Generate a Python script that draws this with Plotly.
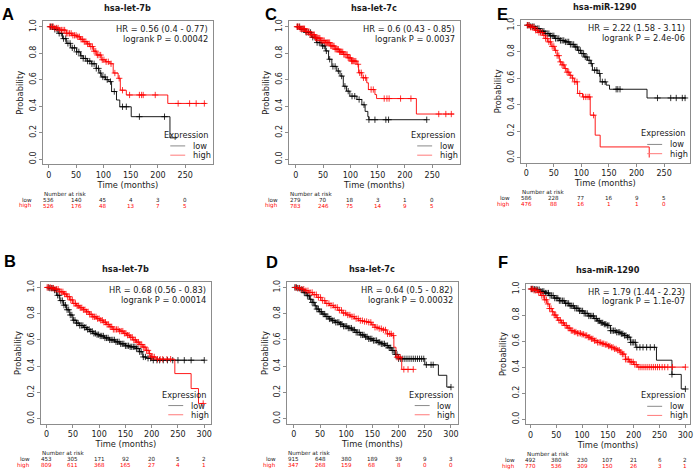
import numpy as np
import plotly.graph_objects as go

# ─────────────────────────────────────────
# DATA
# ─────────────────────────────────────────
titles = ["hsa-let-7b", "hsa-let-7c", "hsa-miR-1290",
          "hsa-let-7b", "hsa-let-7c", "hsa-miR-1290"]
letters = ["A", "C", "E", "B", "D", "F"]
hr_lines = ["HR = 0.56 (0.4 - 0.77)", "HR = 0.6 (0.43 - 0.85)", "HR = 2.22 (1.58 - 3.11)",
            "HR = 0.68 (0.56 - 0.83)", "HR = 0.64 (0.5 - 0.82)", "HR = 1.79 (1.44 - 2.23)"]
p_lines = ["logrank P = 0.00042", "logrank P = 0.0037", "logrank P = 2.4e-06",
           "logrank P = 0.00014", "logrank P = 0.00032", "logrank P = 1.1e-07"]

x_ticks_top = [0, 50, 100, 150, 200, 250]
x_ticks_bottom = [0, 50, 100, 150, 200, 250, 300]
y_ticks = [0, 0.2, 0.4, 0.6, 0.8, 1.0]
y_tick_labels = ["0.0", "0.2", "0.4", "0.6", "0.8", "1.0"]

# number at risk
a_risk_low = [536, 140, 45, 4, 3, 0]
a_risk_high = [526, 176, 48, 13, 7, 5]
c_risk_low = [279, 70, 18, 3, 1, 0]
c_risk_high = [783, 246, 75, 14, 9, 5]
e_risk_low = [586, 228, 77, 16, 9, 5]
e_risk_high = [476, 88, 16, 1, 1, 0]
b_risk_low = [453, 305, 171, 92, 20, 5, 2]
b_risk_high = [809, 611, 368, 165, 27, 4, 1]
d_risk_low = [915, 648, 380, 189, 39, 9, 3]
d_risk_high = [347, 268, 159, 68, 8, 0, 0]
f_risk_low = [492, 380, 230, 107, 21, 6, 2]
f_risk_high = [770, 536, 309, 150, 26, 3, 1]

# Kaplan-Meier steps (time in months, survival)
a_low_t = [0, 10, 17, 25, 32, 40, 51, 58, 63, 70, 78, 87, 92, 96, 104, 110, 115, 124, 130, 151, 222, 235]
a_low_s = [1, 0.98, 0.95, 0.91, 0.874, 0.84, 0.81, 0.78, 0.76, 0.74, 0.72, 0.685, 0.65, 0.62, 0.60,
           0.585, 0.51, 0.446, 0.395, 0.32, 0.16, 0.16]
a_high_t = [0, 10, 20, 32, 42, 51, 58, 63, 70, 75, 82, 87, 96, 104, 112, 118, 127, 131, 142, 218, 288]
a_high_s = [1, 0.99, 0.975, 0.95, 0.935, 0.924, 0.905, 0.887, 0.87, 0.85, 0.815, 0.786, 0.75, 0.735,
            0.72, 0.65, 0.61, 0.52, 0.484, 0.42, 0.42]

c_low_t = [0, 8, 17, 29, 38, 48, 54, 60, 66, 75, 81, 87, 93, 99, 112, 121, 127, 132, 134, 240]
c_low_s = [1, 0.98, 0.957, 0.92, 0.88, 0.855, 0.817, 0.754, 0.70, 0.665, 0.627, 0.55, 0.513, 0.475,
           0.45, 0.41, 0.36, 0.32, 0.297, 0.297]
c_high_t = [0, 8, 17, 26, 35, 45, 54, 63, 72, 80, 87, 95, 102, 112, 115, 121, 130, 133, 145, 148, 221, 290]
c_high_s = [1, 0.985, 0.964, 0.94, 0.914, 0.895, 0.88, 0.855, 0.83, 0.81, 0.79, 0.765, 0.74, 0.716,
            0.652, 0.614, 0.576, 0.525, 0.487, 0.457, 0.34, 0.34]

e_low_t = [0, 8, 15, 25, 33, 42, 51, 60, 69, 78, 87, 93, 99, 105, 111, 117, 120, 130, 134, 145, 151, 219, 290]
e_low_s = [1, 0.99, 0.975, 0.955, 0.937, 0.92, 0.90, 0.885, 0.874, 0.855, 0.836, 0.81, 0.786, 0.76,
           0.735, 0.71, 0.66, 0.635, 0.572, 0.547, 0.516, 0.45, 0.45]
e_high_t = [0, 8, 15, 22, 30, 35, 39, 45, 51, 56, 60, 65, 69, 74, 78, 83, 87, 93, 102, 116, 125, 134, 223]
e_high_s = [1, 0.985, 0.962, 0.945, 0.924, 0.90, 0.874, 0.84, 0.81, 0.77, 0.723, 0.70, 0.673, 0.645,
            0.622, 0.60, 0.572, 0.484, 0.458, 0.32, 0.169, 0.08, 0.0]

b_low_t = [0, 6, 13, 19, 25, 32, 38, 44, 50, 57, 63, 70, 76, 82, 88, 95, 101, 110, 120, 130, 139, 150,
           158, 171, 177, 183, 190, 199, 300]
b_low_s = [1, 0.995, 0.98, 0.94, 0.90, 0.865, 0.83, 0.79, 0.75, 0.728, 0.71, 0.695, 0.68, 0.665, 0.65,
           0.64, 0.63, 0.615, 0.60, 0.585, 0.57, 0.555, 0.547, 0.534, 0.51, 0.47, 0.46, 0.445, 0.445]
b_high_t = [0, 8, 16, 25, 32, 38, 44, 50, 57, 63, 70, 76, 82, 88, 95, 101, 108, 114, 120, 126, 139, 146,
            152, 158, 164, 171, 177, 183, 189, 195, 199, 208, 244, 275, 289, 298]
b_high_s = [1, 0.995, 0.987, 0.967, 0.95, 0.93, 0.905, 0.878, 0.86, 0.845, 0.83, 0.814, 0.795, 0.776,
            0.762, 0.75, 0.735, 0.718, 0.70, 0.68, 0.667, 0.65, 0.636, 0.62, 0.60, 0.583, 0.565, 0.545,
            0.52, 0.495, 0.47, 0.453, 0.343, 0.229, 0.115, 0.115]

d_low_t = [0, 6, 13, 19, 25, 30, 35, 40, 44, 49, 54, 60, 67, 73, 79, 87, 95, 103, 111, 119, 127, 135,
           143, 151, 159, 167, 174, 181, 187, 193, 200, 250, 276, 292, 300]
d_low_s = [1, 0.995, 0.982, 0.96, 0.937, 0.91, 0.886, 0.86, 0.835, 0.815, 0.797, 0.778, 0.76, 0.747,
           0.734, 0.72, 0.704, 0.69, 0.676, 0.657, 0.638, 0.623, 0.608, 0.595, 0.582, 0.57, 0.557,
           0.54, 0.519, 0.489, 0.456, 0.41, 0.33, 0.24, 0.24]
d_high_t = [0, 6, 13, 21, 29, 36, 44, 52, 60, 68, 76, 84, 92, 100, 108, 116, 124, 132, 140, 148, 155,
            162, 168, 178, 187, 191, 195, 206, 228]
d_high_s = [1, 0.995, 0.987, 0.975, 0.962, 0.945, 0.924, 0.90, 0.878, 0.863, 0.848, 0.826, 0.805,
            0.79, 0.777, 0.762, 0.747, 0.74, 0.734, 0.715, 0.696, 0.686, 0.676, 0.646, 0.633, 0.544,
            0.468, 0.375, 0.375]

f_low_t = [0, 7, 14, 20, 27, 36, 46, 56, 66, 75, 85, 94, 104, 113, 123, 130, 136, 142, 149, 155, 165,
           175, 182, 188, 194, 204, 244, 274, 292, 300]
f_low_s = [1, 0.998, 0.995, 0.982, 0.969, 0.95, 0.93, 0.91, 0.89, 0.871, 0.852, 0.832, 0.8125, 0.793,
           0.773, 0.755, 0.74, 0.73, 0.72, 0.68, 0.668, 0.656, 0.643, 0.63, 0.59, 0.552, 0.453, 0.344,
           0.232, 0.232]
f_high_t = [0, 7, 14, 20, 27, 32, 37, 42, 46, 50, 53, 60, 66, 72, 78, 85, 91, 98, 104, 111, 117, 124,
            130, 137, 143, 149, 155, 162, 168, 173, 178, 184, 192, 200, 207, 300]
f_high_s = [1, 0.99, 0.974, 0.95, 0.917, 0.885, 0.85, 0.825, 0.80, 0.78, 0.76, 0.74, 0.72, 0.70, 0.68,
            0.67, 0.66, 0.652, 0.643, 0.63, 0.617, 0.603, 0.59, 0.58, 0.573, 0.562, 0.552, 0.54, 0.53,
            0.515, 0.50, 0.46, 0.44, 0.42, 0.40, 0.40]

# censoring times (+ marks)
a_low_cens = [3, 7, 11, 15, 19, 23, 27, 31, 35, 39, 43, 47, 51, 55, 59, 63, 67, 71, 75, 79, 83, 87, 91,
              95, 99, 103, 107, 113, 120, 135, 142, 166, 212]
a_high_cens = [2, 5, 8, 11, 14, 17, 20, 23, 26, 29, 32, 35, 38, 41, 44, 47, 50, 53, 56, 59, 62, 65, 68,
               71, 74, 77, 80, 83, 86, 89, 92, 95, 98, 101, 105, 109, 114, 121, 129, 135, 148, 166,
               170, 173, 195, 237, 258, 270, 285]
c_low_cens = [3, 7, 11, 15, 19, 23, 27, 31, 35, 39, 43, 46, 49, 52, 56, 62, 68, 72, 78, 84, 90, 96,
              103, 108, 116, 125, 134, 145, 165, 170, 240]
c_high_cens = [2, 4, 6, 8, 10, 12, 14, 16, 18, 20, 22, 24, 26, 28, 30, 32, 34, 36, 38, 40, 42, 44, 46,
               48, 50, 52, 54, 56, 58, 60, 62, 64, 66, 68, 70, 72, 74, 76, 78, 80, 82, 84, 86, 88, 90,
               92, 94, 96, 98, 100, 102, 104, 106, 108, 110, 114, 117, 120, 124, 128, 138, 142, 162,
               167, 171, 192, 211, 262, 275, 285]
e_low_cens = [2, 5, 8, 11, 14, 17, 20, 23, 26, 29, 32, 35, 38, 41, 44, 47, 50, 53, 56, 59, 62, 65, 68,
              71, 74, 77, 80, 83, 86, 89, 92, 95, 98, 101, 104, 107, 110, 114, 118, 124, 128, 133,
              138, 143, 163, 166, 170, 238, 262, 272, 283, 288]
e_high_cens = [2, 5, 8, 11, 14, 17, 20, 23, 26, 29, 32, 35, 38, 41, 44, 47, 50, 53, 56, 59, 62, 65,
               68, 71, 74, 77, 80, 84, 88, 92, 97, 104, 108, 112, 115, 122]
b_low_cens = [3, 6, 9, 12, 15, 18, 21, 24, 27, 30, 33, 36, 39, 42, 45, 48, 51, 54, 57, 60, 63, 66, 69,
              72, 75, 78, 81, 84, 87, 90, 93, 96, 99, 102, 105, 108, 111, 114, 117, 120, 123, 126,
              129, 132, 135, 138, 141, 144, 147, 150, 153, 156, 159, 162, 165, 168, 171, 174, 177,
              180, 184, 188, 193, 198, 203, 210, 215, 222, 230, 240, 250, 262, 275, 300]
b_high_cens = [1, 4, 7, 10, 13, 16, 19, 22, 25, 28, 31, 34, 37, 40, 43, 46, 49, 52, 55, 58, 61, 64,
               67, 70, 73, 76, 79, 82, 85, 88, 91, 94, 97, 100, 103, 106, 109, 112, 115, 118, 121,
               124, 127, 130, 133, 136, 139, 142, 145, 148, 151, 154, 157, 160, 163, 166, 169, 172,
               175, 178, 181, 184, 187, 190, 193, 196, 199, 202, 205, 211, 216, 221, 229, 236, 298]
d_low_cens = [2, 5, 8, 11, 14, 17, 20, 23, 26, 29, 32, 35, 38, 41, 44, 47, 50, 53, 56, 59, 62, 65, 68,
              71, 74, 77, 80, 83, 86, 89, 92, 95, 98, 101, 104, 107, 110, 113, 116, 119, 122, 125,
              128, 131, 134, 137, 140, 143, 146, 149, 152, 155, 158, 161, 164, 167, 170, 173, 176,
              179, 182, 185, 188, 191, 194, 197, 200, 204, 208, 212, 216, 220, 224, 228, 232, 236,
              240, 244, 248, 253, 262, 266, 300]
d_high_cens = [3, 7, 11, 15, 19, 23, 27, 31, 35, 39, 43, 47, 51, 55, 59, 63, 67, 71, 75, 79, 83, 87,
               91, 95, 99, 103, 107, 111, 115, 119, 123, 127, 131, 135, 139, 143, 147, 151, 155, 159,
               163, 167, 171, 175, 179, 183, 186, 190, 197, 200, 203, 210, 218, 228]
f_low_cens = [2, 5, 8, 11, 14, 17, 20, 23, 26, 29, 32, 35, 38, 41, 44, 47, 50, 53, 56, 59, 62, 65, 68,
              71, 74, 77, 80, 83, 86, 89, 92, 95, 98, 101, 104, 107, 110, 113, 116, 119, 122, 125,
              128, 131, 134, 137, 140, 143, 146, 149, 152, 155, 158, 161, 164, 167, 170, 173, 176,
              179, 182, 185, 188, 191, 194, 197, 200, 203, 206, 212, 218, 225, 232, 240, 274, 300]
f_high_cens = [1, 4, 7, 10, 13, 16, 19, 22, 25, 28, 31, 34, 37, 40, 43, 46, 49, 52, 55, 58, 61, 64,
               67, 70, 73, 76, 79, 82, 85, 88, 91, 94, 97, 100, 103, 106, 109, 112, 115, 118, 121,
               124, 127, 130, 133, 136, 139, 142, 145, 148, 151, 154, 157, 160, 163, 166, 169, 172,
               175, 178, 181, 184, 187, 190, 193, 196, 199, 202, 205, 210, 214, 218, 222, 226, 230,
               234, 238, 242, 246, 250, 255, 260, 266, 275, 300]

curves = [
    (a_low_t, a_low_s, a_low_cens, a_high_t, a_high_s, a_high_cens, a_risk_low, a_risk_high, x_ticks_top),
    (c_low_t, c_low_s, c_low_cens, c_high_t, c_high_s, c_high_cens, c_risk_low, c_risk_high, x_ticks_top),
    (e_low_t, e_low_s, e_low_cens, e_high_t, e_high_s, e_high_cens, e_risk_low, e_risk_high, x_ticks_top),
    (b_low_t, b_low_s, b_low_cens, b_high_t, b_high_s, b_high_cens, b_risk_low, b_risk_high, x_ticks_bottom),
    (d_low_t, d_low_s, d_low_cens, d_high_t, d_high_s, d_high_cens, d_risk_low, d_risk_high, x_ticks_bottom),
    (f_low_t, f_low_s, f_low_cens, f_high_t, f_high_s, f_high_cens, f_risk_low, f_risk_high, x_ticks_bottom),
]

# ─────────────────────────────────────────
# LAYOUT (pixel boxes of each panel)
# ─────────────────────────────────────────
W, H = 700, 471
FONT = "DejaVu Sans"
BOX = "#8c8c8c"
TXT = "#1a1a1a"
LOW = "#000000"
HIGH = "#ff0000"

# box left, right, top, bottom / x range / letter left, letter centre y
boxes = [
    (43, 214, 19.5, 163, [-11, 301], 0, 12),
    (290, 462, 19.5, 163, [-13, 301], 264, 12),
    (523, 693, 18, 161.5, [-10, 297], 497, 12),
    (41, 212, 281.4, 423.6, [-11, 313], 2, 260),
    (288.5, 459.5, 281.4, 423.6, [-12.5, 312.5], 265, 261.5),
    (528.3, 693, 283, 424.2, [-8.5, 309], 498, 261.5),
]
Y_RANGE = [-0.04, 1.04]


def fx(p):
    return p / W


def fy(p):
    return 1 - p / H


def step_value(t, s, c):
    idx = np.searchsorted(np.asarray(t), c, side="right") - 1
    return np.asarray(s)[idx]


fig = go.Figure()
annotations = []
shapes = []

for i, (curve, box) in enumerate(zip(curves, boxes), start=1):
    lt, ls, lc, ht, hs, hc, rl, rh, xticks = curve
    left, right, top, bottom, xr, let_x, let_y = box
    sfx = "" if i == 1 else str(i)
    xa, ya = "x" + sfx, "y" + sfx

    for t, s, cens, col in [(lt, ls, lc, LOW), (ht, hs, hc, HIGH)]:
        fig.add_trace(go.Scatter(
            x=t, y=s, mode="lines", line=dict(color=col, width=0.9, shape="hv"),
            xaxis=xa, yaxis=ya, showlegend=False, hoverinfo="skip"))
        fig.add_trace(go.Scatter(
            x=cens, y=step_value(t, s, cens), mode="markers",
            marker=dict(symbol="cross-thin", size=4.5, line=dict(width=0.8, color=col)),
            xaxis=xa, yaxis=ya, showlegend=False, hoverinfo="skip"))

    fig.update_layout(**{
        "xaxis" + sfx: dict(
            domain=[fx(left), fx(right)], range=xr, anchor=ya,
            tickvals=xticks, ticktext=[str(v) for v in xticks],
            showline=True, mirror=True, linecolor=BOX, linewidth=1,
            ticks="outside", ticklen=3, tickcolor=BOX, tickwidth=1,
            tickfont=dict(family=FONT, size=8, color=TXT),
            showgrid=False, zeroline=False,
            title=dict(text="Time (months)", font=dict(family=FONT, size=8.3, color=TXT), standoff=2)),
        "yaxis" + sfx: dict(
            domain=[fy(bottom), fy(top)], range=Y_RANGE, anchor=xa,
            tickvals=y_ticks, ticktext=y_tick_labels, tickangle=-90,
            showline=True, mirror=True, linecolor=BOX, linewidth=1,
            ticks="outside", ticklen=3, tickcolor=BOX, tickwidth=1,
            tickfont=dict(family=FONT, size=8, color=TXT),
            showgrid=False, zeroline=False,
            title=dict(text="Probability", font=dict(family=FONT, size=8.3, color=TXT), standoff=3)),
    })

    # title and panel letter
    annotations.append(dict(
        text="<b>%s</b>" % titles[i - 1], x=fx((left + right) / 2), y=fy(top - 13.4),
        xref="paper", yref="paper", showarrow=False, xanchor="center", yanchor="middle",
        font=dict(family=FONT, size=8.2, color=TXT)))
    annotations.append(dict(
        text="<b>%s</b>" % letters[i - 1], x=fx(let_x), y=fy(let_y),
        xref="paper", yref="paper", showarrow=False, xanchor="left", yanchor="middle",
        font=dict(family="Liberation Sans", size=16.5, color="#000000")))

    # hazard ratio text
    for txt, yv in [(hr_lines[i - 1], 0.98), (p_lines[i - 1], 0.905)]:
        annotations.append(dict(
            text=txt, x=fx(right - 3), y=yv, xref="paper", yref=ya,
            showarrow=False, xanchor="right", yanchor="middle",
            font=dict(family=FONT, size=8.3, color=TXT)))

    # legend
    annotations.append(dict(
        text="Expression", x=fx(right - 3), y=0.183, xref="paper", yref=ya,
        showarrow=False, xanchor="right", yanchor="middle",
        font=dict(family=FONT, size=8.2, color=TXT)))
    for name, yv, col in [("low", 0.099, "#8a8a8a"), ("high", 0.029, "#ff7a7a")]:
        annotations.append(dict(
            text=name, x=fx(right - 22.5), y=yv, xref="paper", yref=ya,
            showarrow=False, xanchor="left", yanchor="middle",
            font=dict(family=FONT, size=8.2, color=TXT)))
        shapes.append(dict(
            type="line", xref="paper", yref=ya, x0=fx(right - 43), x1=fx(right - 28),
            y0=yv, y1=yv, line=dict(color=col, width=1)))

    # number at risk table
    annotations.append(dict(
        text="Number at risk", x=fx(left - 1), y=fy(bottom + 29.7),
        xref="paper", yref="paper", showarrow=False, xanchor="left", yanchor="middle",
        font=dict(family=FONT, size=5.6, color=TXT)))
    for name, row, dy, col in [("low", rl, 35.8, TXT), ("high", rh, 41.8, HIGH)]:
        annotations.append(dict(
            text=name, x=fx(left - 9), y=fy(bottom + dy),
            xref="paper", yref="paper", showarrow=False, xanchor="right", yanchor="middle",
            font=dict(family=FONT, size=5.6, color=col)))
        for tv, n in zip(xticks, row):
            annotations.append(dict(
                text=str(n), x=tv, y=fy(bottom + dy), xref=xa, yref="paper",
                showarrow=False, xanchor="center", yanchor="middle",
                font=dict(family=FONT, size=5.6, color=col)))

fig.update_layout(
    width=W, height=H,
    margin=dict(l=0, r=0, t=0, b=0),
    paper_bgcolor="white", plot_bgcolor="white",
    showlegend=False,
    annotations=annotations, shapes=shapes,
    font=dict(family=FONT, color=TXT),
)

# the page body has a default 8px margin; drop it so the figure fills the window
fig.write_html("out.html", config={"displayModeBar": False},
               post_script="document.body.style.margin = '0';")
